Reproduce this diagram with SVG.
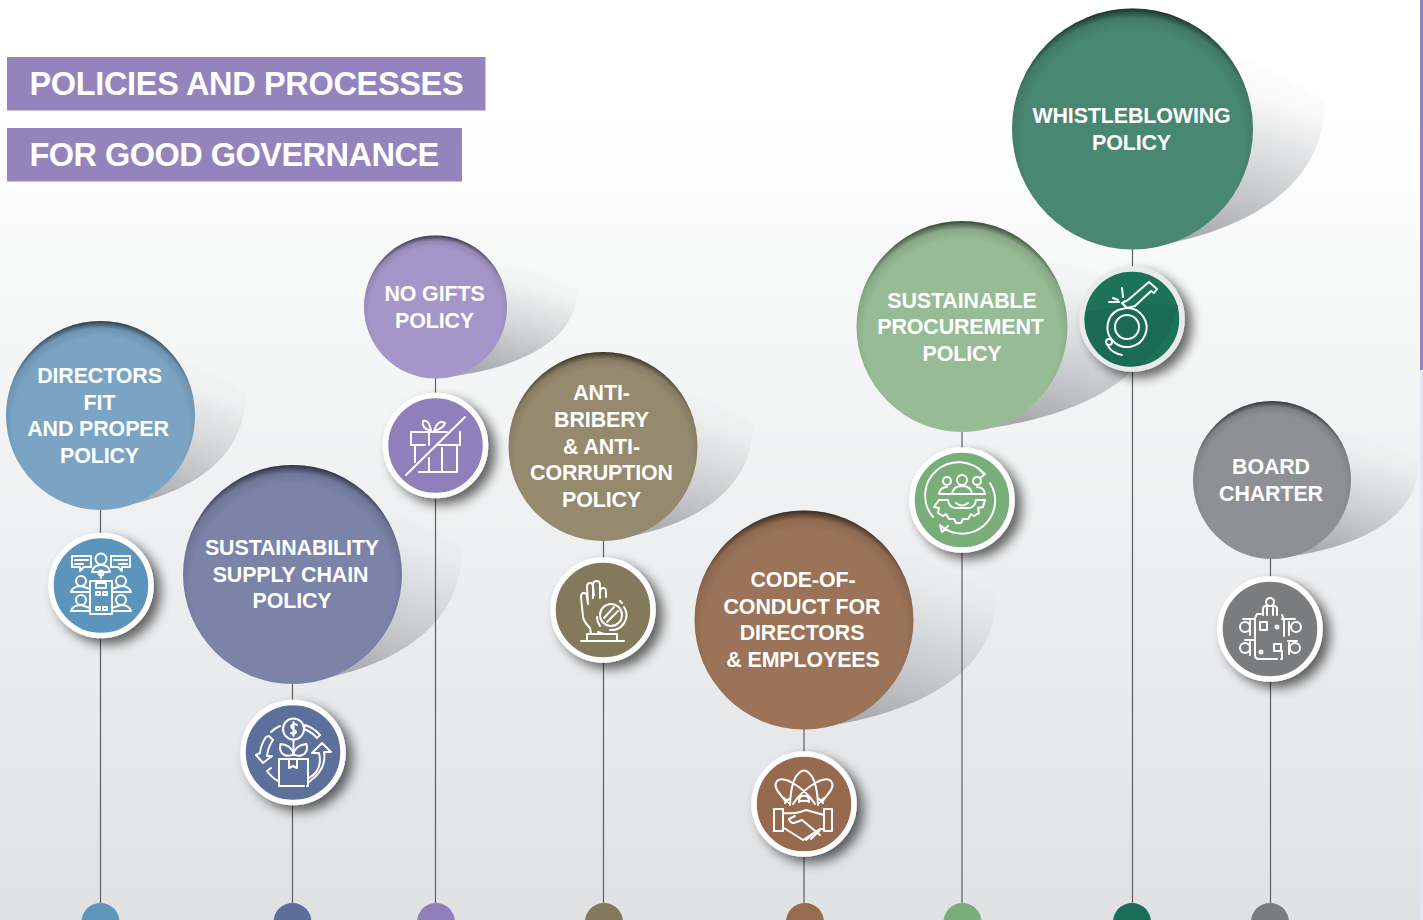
<svg xmlns="http://www.w3.org/2000/svg" width="1423" height="920" viewBox="0 0 1423 920">
<defs>
<linearGradient id="bg" x1="0" y1="0" x2="0" y2="1"><stop offset="0" stop-color="#ffffff"/><stop offset="0.13" stop-color="#ffffff"/><stop offset="0.3" stop-color="#f7f8f8"/><stop offset="0.6" stop-color="#eeeff0"/><stop offset="1" stop-color="#dfe1e3"/></linearGradient>
<linearGradient id="sh" x1="0.7" y1="0" x2="0.36" y2="0.95"><stop offset="0" stop-color="#b5b7ba" stop-opacity="0"/><stop offset="0.2" stop-color="#c8cacc" stop-opacity=".1"/><stop offset="0.42" stop-color="#c8cacc" stop-opacity=".5"/><stop offset="0.7" stop-color="#c0c2c5" stop-opacity=".9"/><stop offset="1" stop-color="#a9abae"/></linearGradient>
<radialGradient id="inner" cx="0.5" cy="0.55" r="0.55"><stop offset="0.84" stop-color="#000" stop-opacity="0"/><stop offset="0.93" stop-color="#000" stop-opacity="0.1"/><stop offset="1" stop-color="#000" stop-opacity="0.62"/></radialGradient>
<filter id="ds" x="-30%" y="-30%" width="175%" height="175%"><feGaussianBlur in="SourceAlpha" stdDeviation="6"/><feOffset dx="7" dy="6"/><feComponentTransfer><feFuncA type="linear" slope=".6"/></feComponentTransfer><feMerge><feMergeNode/><feMergeNode in="SourceGraphic"/></feMerge></filter>
<path id="tail" d="M70-62 L100-56 L160-24 C160 50 92 88 0 100Z" fill="url(#sh)"/>
<clipPath id="cutp"><rect x="900" y="200" width="232.500" height="240"/></clipPath>
</defs>
<style>
.t{font-family:"Liberation Sans",Arial,sans-serif;font-weight:700;fill:#fff;text-anchor:middle;font-size:21.4px;letter-spacing:-.1px}
.h{font-family:"Liberation Sans",Arial,sans-serif;font-weight:700;fill:#fff;font-size:32.5px;letter-spacing:-.34px}
.ln{stroke:#5d5f62;stroke-width:1.2;fill:none}
.w{fill:none;stroke:#fff;stroke-width:2;stroke-linecap:round;stroke-linejoin:round}
.ring{stroke:#fff;stroke-width:5.5}
.gloss{fill:url(#inner)}
</style>
<rect width="1423" height="920" fill="url(#bg)"/>
<rect x="1420" y="0" width="3" height="370" fill="#9484bd"/>
<rect x="1420" y="370" width="3" height="550" fill="#e6e6ee"/>

<g id="title">
<rect x="7" y="57" width="478.500" height="53.500" fill="#9483bd"/>
<text class="h" x="29.500" y="95">POLICIES AND PROCESSES</text>
<rect x="7" y="128" width="455" height="53.500" fill="#9483bd"/>
<text class="h" x="29.500" y="166" style="letter-spacing:-.52px">FOR GOOD GOVERNANCE</text>
</g>

<g id="shadows">
<use href="#tail" transform="translate(100.500 415.500) scale(.908 .945)"/>
<use href="#tail" transform="translate(292.500 574.500) scale(1.06 1.095)"/>
<use href="#tail" transform="translate(435.500 307) scale(.885 .715)"/>
<use href="#tail" transform="translate(603 446.500) scale(.938 .945)"/>
<use href="#tail" transform="translate(804 620) scale(1.206 1.095)"/>
<g clip-path="url(#cutp)"><use href="#tail" transform="translate(962 326.500) scale(1.25 1.055)"/></g>
<use href="#tail" transform="translate(1132.500 129) scale(1.203 1.205)"/>
<use href="#tail" transform="translate(1272 480) scale(.92 .79)"/>
</g>

<g id="connectors" class="ln">
<path d="M100.500 500V905"/>
<path d="M292.500 670V905"/>
<path d="M435.500 370V905"/>
<path d="M603.500 530V905"/>
<path d="M804 720V905"/>
<path d="M962 425V905"/>
<path d="M1132.500 240V905"/>
<path d="M1270.500 550V905"/>
</g>

<g id="node-directors">
<circle cx="100.500" cy="415.500" r="94.500" fill="#7ba4c4"/><circle class="gloss" cx="100.500" cy="415.500" r="94.500"/>
<text class="t"><tspan x="99.500" y="383">DIRECTORS</tspan><tspan x="99.500" y="410">FIT</tspan><tspan x="98" y="436">AND PROPER</tspan><tspan x="99.500" y="463">POLICY</tspan></text>
<circle class="ring" cx="101" cy="585.500" r="50" fill="#5c95bb" filter="url(#ds)"/>
<g class="w"><path d="M72 556h19v11h-7l-4 4v-4h-8zM111 556h19v11h-8v4l-4-4h-7zM75 560h13M114 560h13M75 564h8M119 564h8"/><circle cx="101" cy="559" r="5.500"/><path d="M92 572q1-7 9-7t9 7zM101 572v6"/><circle cx="101" cy="573" r="2.500"/><path d="M90 581h22v33h-22zM96 592h4v3h-4zM103 592h4v3h-4zM96 607h4v3h-4zM103 607h4v3h-4zM96 583h10v5h-10z"/><circle cx="81" cy="581" r="5"/><circle cx="121" cy="581" r="5"/><circle cx="81" cy="600" r="5"/><circle cx="121" cy="600" r="5"/><path d="M71 592q2-6 10-6l9 3M131 592q-2-6-10-6l-9 3M71 592h19M112 592h19M71 611q2-6 10-6l9 3M131 611q-2-6-10-6l-9 3M71 611h19M112 611h19"/></g>
</g>

<g id="node-supply">
<circle cx="292.500" cy="574.500" r="109.500" fill="#7b83a9"/><circle class="gloss" cx="292.500" cy="574.500" r="109.500"/>
<text class="t"><tspan x="292" y="555">SUSTAINABILITY</tspan><tspan x="290.500" y="582">SUPPLY CHAIN</tspan><tspan x="292" y="608">POLICY</tspan></text>
<circle class="ring" cx="293" cy="752.500" r="50" fill="#5c6f9b" filter="url(#ds)"/>
<g class="w"><circle cx="293.500" cy="729" r="10.500"/><path d="M297 725q-3-2-5 0-2 2 1 4t3 3q-1 3-5 1M293.500 722v14M293.500 740v13M271 732q4-4 9-6M305 725q9 3 15 10l-3 3q-5-6-13-9zM269 736l-3 1q-5 7-6 16l-4 2 7 8 9-7-5 0q1-9 6-16z"/><path d="M293.500 754q-2-9-13-10-2 8 4 11 5 2 9-1zM293.500 754q2-9 13-10 2 8-4 11-5 2-9-1z"/><path d="M304 786h-25v-27h29v27h-1M289 759v9l4-2 4 2v-9"/><path d="M271 768l-4 3q4 6 11 10M309 778q14-8 10-25h-7l10-10 9 9h-7q3 17-15 30"/></g>
</g>

<g id="node-nogifts">
<circle cx="435.500" cy="307" r="71.500" fill="#a596c9"/><circle class="gloss" cx="435.500" cy="307" r="71.500"/>
<text class="t"><tspan x="434.500" y="301">NO GIFTS</tspan><tspan x="434.500" y="328">POLICY</tspan></text>
<circle class="ring" cx="435.500" cy="445.500" r="50" fill="#917fbb" filter="url(#ds)"/>
<g class="w"><path d="M447 432H411V445H425M460 432V445H438M415 445V462M419 472H457V445M429 432V445M442 448V472M429 458V472"/><path d="M431 431Q421 428 423 421Q429 419 431 431M434 431Q444 428 445 423Q438 419 434 431"/><path d="M406 475L465 417"/></g>
</g>

<g id="node-antibribery">
<circle cx="603" cy="446.500" r="94.500" fill="#968a6e"/><circle class="gloss" cx="603" cy="446.500" r="94.500"/>
<text class="t"><tspan x="601.500" y="400">ANTI-</tspan><tspan x="601.500" y="427">BRIBERY</tspan><tspan x="601.500" y="454">&amp; ANTI-</tspan><tspan x="601.500" y="480">CORRUPTION</tspan><tspan x="601.500" y="507">POLICY</tspan></text>
<circle class="ring" cx="603" cy="610" r="50" fill="#837a5b" filter="url(#ds)"/>
<g class="w"><path d="M590 628q-6-6-7-11l-2-20q0-4 3-4t3 4l1 7M588 604l-1-17q0-4 3-4t3 4l1 8M593 598v-13q0-4 3.500-4t3.500 4v13M600 598v-6q0-4 3-4t3 4v5"/><path d="M590 628l1 6M598 632l6 2M587 634h30v6M587 634v6M581 641h43"/><circle cx="611" cy="615" r="11"/><path d="M604 618L614 607M607 622L618 611M624 607a15 15 0 0 1-14 23M600 626a15 15 0 0 1-3-9M622 603l-2-2" /></g>
</g>

<g id="node-code">
<circle cx="804" cy="620" r="109.500" fill="#9b7358"/><circle class="gloss" cx="804" cy="620" r="109.500"/>
<text class="t"><tspan x="803" y="587">CODE-OF-</tspan><tspan x="802" y="614">CONDUCT FOR</tspan><tspan x="802" y="640">DIRECTORS</tspan><tspan x="803" y="667">&amp; EMPLOYEES</tspan></text>
<circle class="ring" cx="804" cy="804" r="50" fill="#966b4f" filter="url(#ds)"/>
<g class="w"><path d="M774 809h9v22h-9zM832 809h-8v22h8zM783 813q11 1 17-1l6-2 18 5M824 829h-4l-17 11-19-12M795 816l-6 3q1 4 5 4l8-3 18 15M806 840l7-6M811 839l7-7M817 833l4-4"/><path d="M786 802l-6-8q-7-8-3-13 4-4 14 1 16 9 24 22M822 802l6-8q7-8 3-13-4-4-14 1-16 9-24 22M790 805q1-24 8-31 6-7 12 0 7 7 8 31M799 802q0-7 5-6 5-1 5 6-2-2-5-1-3-1-5 1z"/><path d="M785 803l5-5M784 798l5 5M823 803l-5-5M824 798l-5 5"/></g>
</g>

<g id="node-procurement">
<circle cx="962" cy="326.500" r="105.500" fill="#97bb94"/><circle class="gloss" cx="962" cy="326.500" r="105.500"/>
<text class="t"><tspan x="962" y="308">SUSTAINABLE</tspan><tspan x="960.500" y="334">PROCUREMENT</tspan><tspan x="962" y="361">POLICY</tspan></text>
<circle class="ring" cx="962" cy="500" r="50" fill="#79ad7a" filter="url(#ds)"/>
<g class="w"><path d="M933 517A33 33 0 0 1 984 474M978 468L985 474L980 478M990 483A33 33 0 0 1 941 526M940 525L942 532L948 526"/><circle cx="947" cy="481" r="4"/><circle cx="962" cy="480" r="5"/><circle cx="977" cy="481" r="4"/><path d="M939 494q1-7 8-7M952 494q1-8 10-8t10 8M985 494q-1-7-8-7M939 494h46M939 500h9q1 8 8 8h12q7 0 8-8h9l-2 7-5 1 1 5-5 3-3-2-3 5h-5l-2 4h-5l-2-4h-5l-3-5-3 2-5-3 1-5-5-1zM956 503q6 5 12 0"/></g>
</g>

<g id="node-whistle">
<circle cx="1132.500" cy="129" r="120.500" fill="#488771"/><circle class="gloss" cx="1132.500" cy="129" r="120.500"/>
<text class="t"><tspan x="1131.500" y="123">WHISTLEBLOWING</tspan><tspan x="1131.500" y="150">POLICY</tspan></text>
<circle cx="1132" cy="319" r="50" fill="#1a7358" stroke="#e9eaea" stroke-width="5.500" filter="url(#ds)"/>
<path d="M1110 362A47.500 47.500 0 0 1 1085 312Q1130 302 1178 305Q1170 342 1139 366A47.500 47.500 0 0 1 1110 362Z" fill="#1a6a54"/>
<g class="w"><circle cx="1127" cy="327" r="12"/><path d="M1127 308A19.500 19.500 0 1 1 1113 341M1113 341A19.500 19.500 0 0 1 1118 310L1126 308M1122 303L1127 308M1122 303L1128 300L1149 282L1157 289L1154 293L1151 291L1135 306L1127 308M1109 302H1119M1122 288L1123 297M1113 298L1118 300M1108 346Q1112 353 1122 355"/><circle cx="1109" cy="342" r="3"/></g>
</g>

<g id="node-board">
<circle cx="1272" cy="480" r="79" fill="#8e9093"/><circle class="gloss" cx="1272" cy="480" r="79"/>
<text class="t"><tspan x="1271" y="474">BOARD</tspan><tspan x="1271" y="501">CHARTER</tspan></text>
<circle class="ring" cx="1270" cy="629" r="50" fill="#7a7b7e" filter="url(#ds)"/>
<g class="w"><path d="M1255 619v36q0 4 4 4h18M1281 659h1v-8M1284 636v-16l-2-5M1261 614h-4l-2 4"/><rect x="1260" y="622" width="7" height="8"/><rect x="1274" y="644" width="7" height="7"/><circle cx="1277" cy="627" r="1.500"/><circle cx="1261" cy="652" r="1.500"/><circle cx="1270" cy="602" r="4"/><path d="M1263 615v-6q0-3 3-3h8q3 0 3 3v6M1267 608v7M1273 608v7"/><circle cx="1245" cy="627" r="5"/><circle cx="1245" cy="648" r="5"/><circle cx="1296" cy="627" r="5"/><circle cx="1295" cy="648" r="5"/><path d="M1243 619h12M1250 621v14M1245 640h10M1250 642v13M1282 619h13M1289 622v13M1288 641h9M1289 643v11"/></g>
</g>

<g id="end-dots">
<circle cx="100.500" cy="922" r="19" fill="#5d95bb"/>
<circle cx="292.500" cy="922" r="19" fill="#5c6f9b"/>
<circle cx="436" cy="922" r="19" fill="#917fbb"/>
<circle cx="604" cy="922" r="19" fill="#837a5b"/>
<circle cx="805" cy="922" r="19" fill="#966b4f"/>
<circle cx="962.500" cy="922" r="19" fill="#79ad7a"/>
<circle cx="1132" cy="922" r="19" fill="#1b6e59"/>
<circle cx="1270" cy="922" r="19" fill="#7a7b7e"/>
</g>
</svg>
